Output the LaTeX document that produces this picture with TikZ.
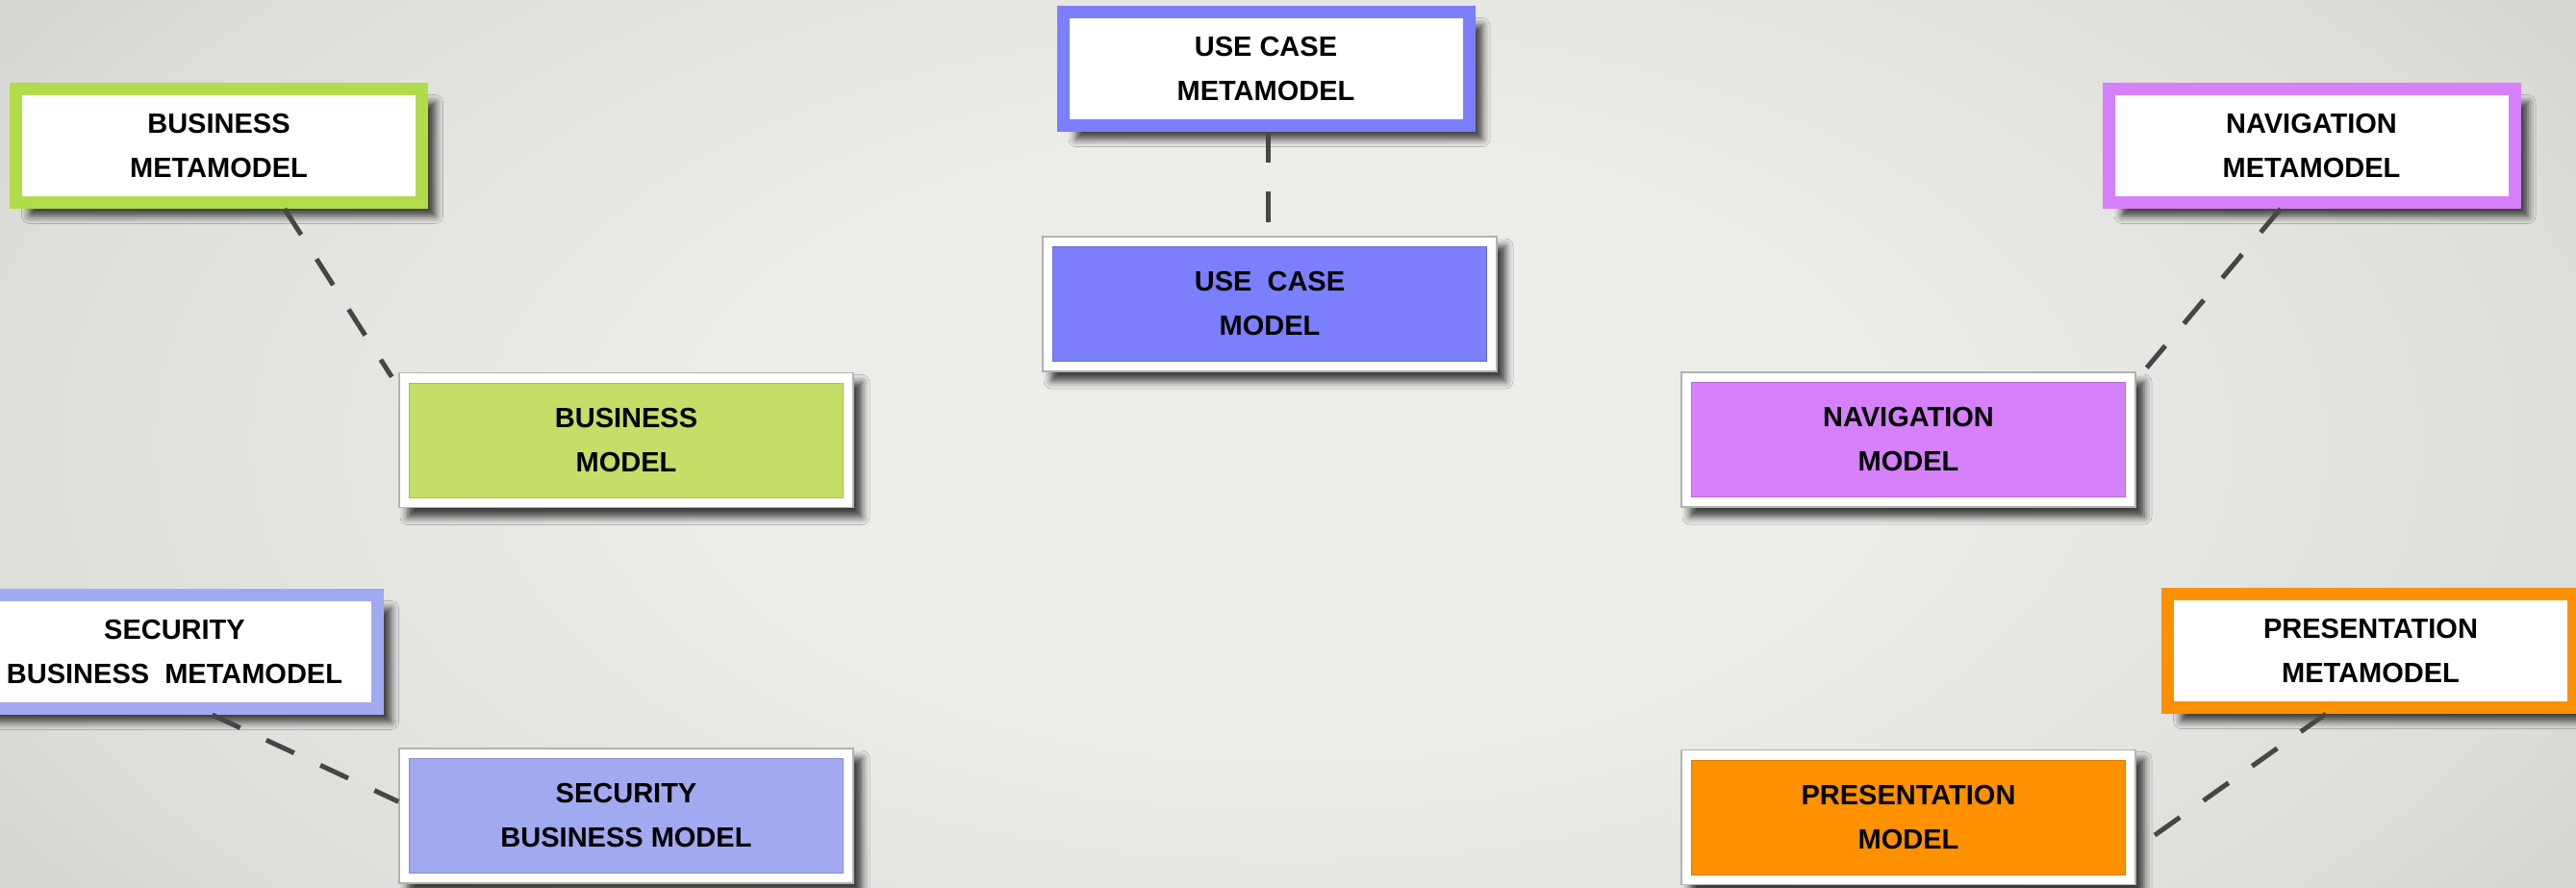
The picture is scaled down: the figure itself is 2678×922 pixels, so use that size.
\documentclass[tikz,border=0pt]{standalone}
\usepackage{fontspec}
\setmainfont{Liberation Sans}
\usetikzlibrary{shadows.blur,calc}

\definecolor{bgin}{HTML}{ECECE9}
\definecolor{bgmid}{HTML}{DCDCD8}
\definecolor{bgout}{HTML}{C4C4BF}
\definecolor{ucc}{HTML}{7B7FFD}
\definecolor{busc}{HTML}{B0DC4A}
\definecolor{busf}{HTML}{C5DE68}
\definecolor{navc}{HTML}{D680FC}
\definecolor{secc}{HTML}{A1A9F0}
\definecolor{prc}{HTML}{FF9100}
\definecolor{dashc}{HTML}{464646}

\pgfdeclareradialshading{vign}{\pgfpoint{0bp}{0bp}}{color(0bp)=(bgin); color(11bp)=(bgin); color(25bp)=(bgmid); color(36bp)=(bgout); color(50bp)=(bgout)}

\newcommand{\mfont}{\fontsize{29}{46}\selectfont\bfseries}

\tikzset{
  meta/.style={draw=#1, line width=13pt, fill=white, minimum width=422pt,
    minimum height=118pt, inner sep=0pt, align=center, font=\mfont, text=black,
    blur shadow={shadow xshift=14pt, shadow yshift=-14pt, shadow blur radius=8pt, shadow opacity=75}},
  mframe/.style={draw=black!30, line width=1.5pt, fill=white, minimum width=472pt,
    minimum height=140pt, inner sep=0pt,
    blur shadow={shadow xshift=9pt, shadow yshift=-10pt, shadow blur radius=8pt, shadow opacity=75}},
  model/.style={fill=#1, draw=#1!85!black, line width=1pt, minimum width=451pt,
    minimum height=119pt, inner sep=0pt, align=center, font=\mfont, text=black},
  link/.style={draw=dashc, line width=5pt, dash pattern=on 32pt off 30pt}
}

\begin{document}
\begin{tikzpicture}[x=1pt,y=-1pt]
\useasboundingbox (0,0) rectangle (2678,922);
\clip (0,0) rectangle (2678,922);
\shade[shading=vign] (-60,-260) rectangle (2738,1182);

% metamodels
\node[meta=busc] (bmeta) at (227.5,151.5) {BUSINESS\\METAMODEL};
\node[meta=ucc] (ucmeta) at (1316,71.5) {USE CASE\\METAMODEL};
\node[meta=navc] (nmeta) at (2403,151.5) {NAVIGATION\\METAMODEL};
\node[meta=secc] (smeta) at (181.5,677.5) {SECURITY\\BUSINESS\ \ METAMODEL};
\node[meta=prc] (pmeta) at (2464.5,676.5) {PRESENTATION\\METAMODEL};

% models
\node[mframe] (bmodelf) at (651,457.5) {};
\node[model=busf] (bmodel) at (bmodelf.center) {BUSINESS\\MODEL};
\node[mframe] (ucmodelf) at (1320,316) {};
\node[model=ucc] (ucmodel) at (ucmodelf.center) {USE\ \ CASE\\MODEL};
\node[mframe] (nmodelf) at (1984,457) {};
\node[model=navc] (nmodel) at (nmodelf.center) {NAVIGATION\\MODEL};
\node[mframe] (smodelf) at (651,848) {};
\node[model=secc] (smodel) at (smodelf.center) {SECURITY\\BUSINESS MODEL};
\node[mframe] (pmodelf) at (1984,849.5) {};
\node[model=prc] (pmodel) at (pmodelf.center) {PRESENTATION\\MODEL};

% connectors
\draw[link] ([xshift=2pt]ucmeta.south) -- ([xshift=-2pt]ucmodelf.north);
\draw[link] ($(bmeta.south west)!0.657!(bmeta.south east)$) -- ([xshift=-7pt,yshift=-5pt]bmodelf.north west);
\draw[link] ($(nmeta.south west)!0.426!(nmeta.south east)$) -- ([xshift=11pt,yshift=4pt]nmodelf.north east);
\draw[link] ($(smeta.south west)!0.59!(smeta.south east)$) -- ([yshift=-56pt]smodelf.north west);
\draw[link] ($(pmeta.south west)!0.393!(pmeta.south east)$) -- ([xshift=13pt,yshift=-23pt]pmodelf.east);
\end{tikzpicture}
\end{document}
